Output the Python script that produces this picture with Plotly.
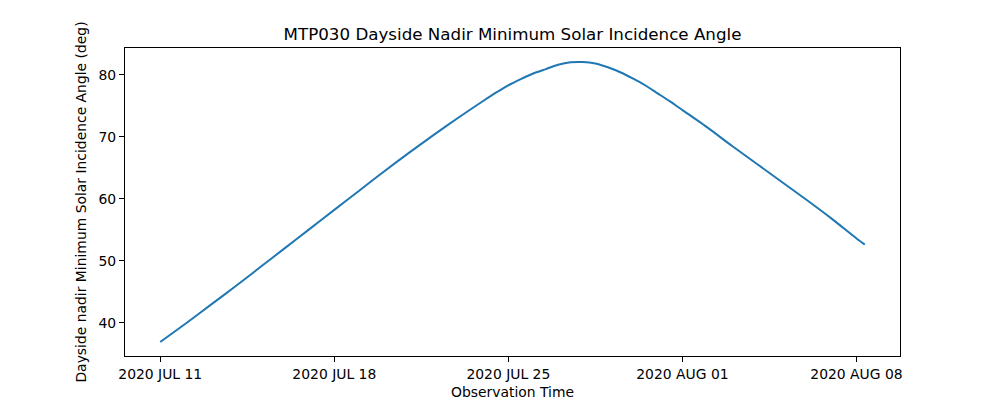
import plotly.graph_objects as go
import pandas as pd

# ---- data ----
obs_time = [
    "2020-07-11 00:00", "2020-07-12 00:00", "2020-07-13 00:00", "2020-07-14 00:00",
    "2020-07-15 00:00", "2020-07-16 00:00", "2020-07-17 00:00", "2020-07-18 00:00",
    "2020-07-19 00:00", "2020-07-20 00:00", "2020-07-21 00:00", "2020-07-22 00:00",
    "2020-07-23 00:00", "2020-07-24 00:00", "2020-07-24 12:00", "2020-07-25 00:00",
    "2020-07-25 12:00", "2020-07-26 00:00", "2020-07-26 12:00", "2020-07-27 00:00",
    "2020-07-27 12:00", "2020-07-28 00:00", "2020-07-28 12:00", "2020-07-29 00:00",
    "2020-07-29 12:00", "2020-07-30 00:00", "2020-07-30 12:00", "2020-07-31 00:00",
    "2020-07-31 12:00", "2020-08-01 00:00", "2020-08-02 00:00", "2020-08-03 00:00",
    "2020-08-04 00:00", "2020-08-05 00:00", "2020-08-06 00:00", "2020-08-07 00:00",
    "2020-08-08 00:00", "2020-08-08 08:00",
]
incidence_deg = [
    36.9, 39.8, 42.8, 45.8,
    48.9, 52.0, 55.1, 58.2,
    61.3, 64.4, 67.4, 70.3,
    73.1, 75.8, 77.1, 78.3,
    79.3, 80.2, 80.9, 81.6,
    82.0, 82.05, 81.8, 81.2,
    80.4, 79.4, 78.3, 77.0,
    75.7, 74.3, 71.5, 68.5,
    65.6, 62.7, 59.8, 56.8,
    53.6, 52.6,
]
tick_dates = ["2020-07-11", "2020-07-18", "2020-07-25", "2020-08-01", "2020-08-08"]
tick_labels = ["2020 JUL 11", "2020 JUL 18", "2020 JUL 25", "2020 AUG 01", "2020 AUG 08"]
y_ticks = [40, 50, 60, 70, 80]

# ---- axis ranges with matplotlib-like 5% margins ----
t = pd.to_datetime(obs_time)
tspan = t.max() - t.min()
x_range = [t.min() - 0.05 * tspan, t.max() + 0.05 * tspan]
vspan = max(incidence_deg) - min(incidence_deg)
y_range = [min(incidence_deg) - 0.05 * vspan, max(incidence_deg) + 0.05 * vspan]

FONT = "DejaVu Sans"

fig = go.Figure()
fig.add_trace(go.Scatter(
    x=t, y=incidence_deg, mode="lines",
    line=dict(color="#1f77b4", width=2, shape="spline", smoothing=0.6),
    showlegend=False,
))

axis_common = dict(
    showline=True, linecolor="black", linewidth=1, mirror=True,
    ticks="outside", ticklen=5, tickwidth=1, tickcolor="black",
    showgrid=False, zeroline=False,
    tickfont=dict(family=FONT, size=13.9, color="black"),
)

fig.update_layout(
    width=1000, height=400,
    margin=dict(l=125, r=100, t=48, b=44),
    paper_bgcolor="white", plot_bgcolor="white",
    font=dict(family=FONT, size=13.9, color="black"),
    title=dict(
        text="MTP030 Dayside Nadir Minimum Solar Incidence Angle",
        x=0.5125, xanchor="center", y=1 - 34 / 400, yanchor="middle",
        font=dict(family=FONT, size=16.7, color="black"),
    ),
    xaxis=dict(
        **axis_common,
        range=x_range,
        tickmode="array", tickvals=pd.to_datetime(tick_dates), ticktext=tick_labels,
        title=dict(text="Observation Time", standoff=6,
                   font=dict(family=FONT, size=13.9, color="black")),
        automargin=False,
    ),
    yaxis=dict(
        **axis_common,
        range=y_range,
        tickmode="array", tickvals=y_ticks,
        title=dict(text="Dayside nadir Minimum Solar Incidence Angle (deg)", standoff=8,
                   font=dict(family=FONT, size=13.9, color="black")),
        automargin=False,
    ),
)

fig.write_html("out.html",
               config={"displayModeBar": False},
               post_script="document.body.style.margin='0px';document.body.style.overflow='hidden';")
